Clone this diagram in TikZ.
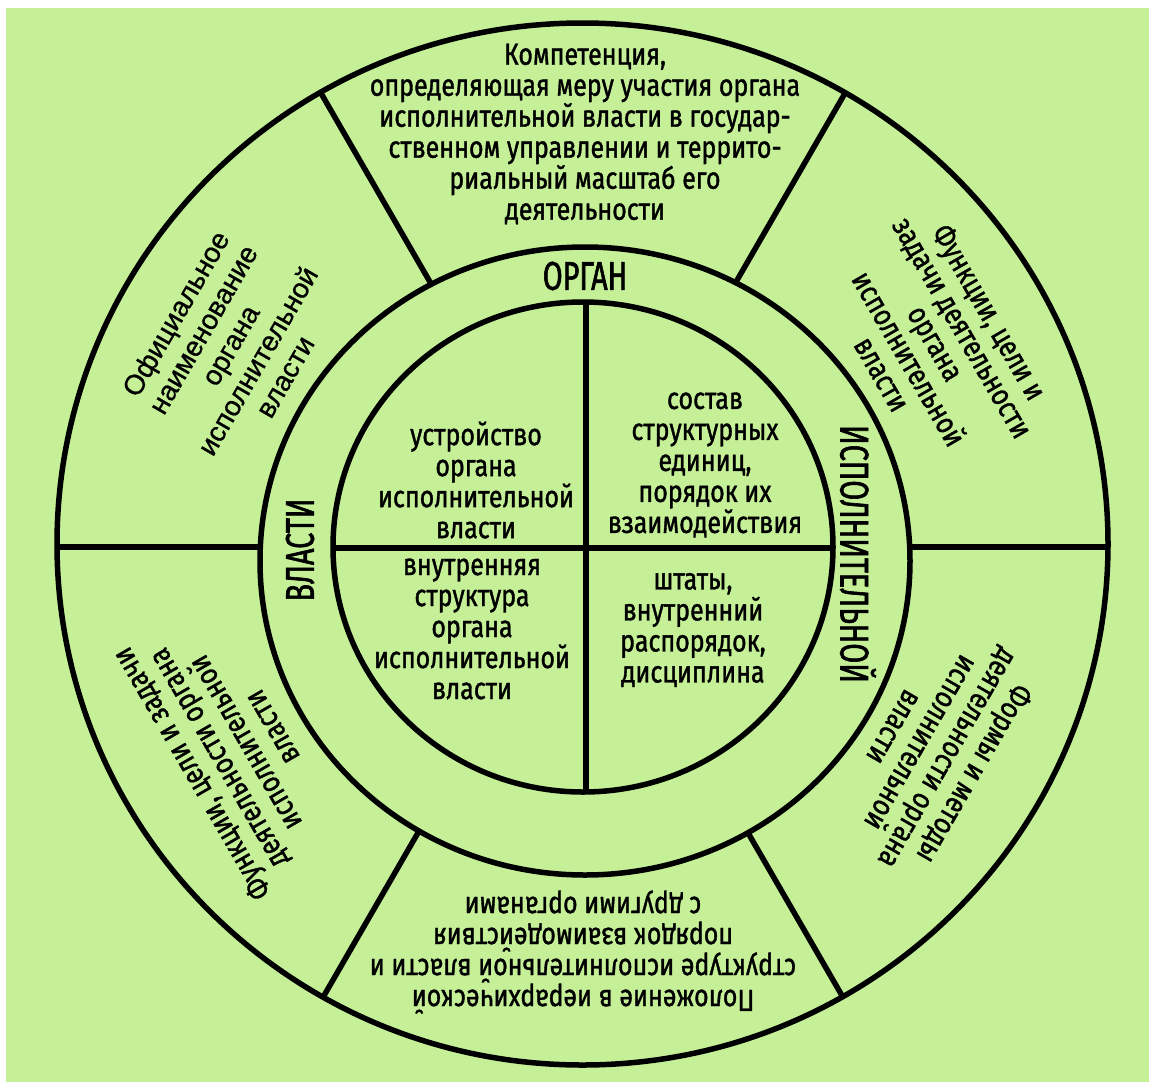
\documentclass[tikz,border=0pt]{standalone}
\usepackage{fontspec}
\setmainfont{Fira Sans}[FakeStretch=0.82, FakeBold=1.2]
\newfontfamily\arialf{Liberation Sans}[FakeBold=0.8]
\newfontfamily\capsf{Fira Sans}[FakeStretch=0.72, FakeBold=1.5]
\definecolor{bggreen}{RGB}{197,240,152}
\tikzset{
  txt/.style={align=center, font=\fontsize{30.5}{31}\selectfont, inner sep=0pt},
  arl/.style={align=center, font=\arialf\fontsize{28}{31.5}\selectfont, inner sep=0pt},
  ringlbl/.style={font=\capsf\fontsize{40}{40}\selectfont, inner sep=0pt},
  ln/.style={line width=5.5pt, black},
}
\begin{document}
\begin{tikzpicture}[x=1pt, y=-1pt]
\useasboundingbox (0,0) rectangle (1149,1082);
\fill[white] (0,0) rectangle (1149,1082);
\fill[bggreen] (6,8) rectangle (1149,1082);
% spokes of the outer ring
\begin{scope}
  \clip (582.5,544) ellipse [x radius=525.5pt, y radius=521pt];
  \foreach \a in {0,60,...,300}
    \draw[ln] (583,547) -- ++(\a:700pt);
\end{scope}
\fill[bggreen] (585,561) ellipse [x radius=325pt, y radius=314pt];
% circles
\draw[ln] (582.5,544) ellipse [x radius=525.5pt, y radius=521pt];
\draw[ln] (585,561) ellipse [x radius=325pt, y radius=314pt];
\draw[ln] (583,547) ellipse [x radius=250pt, y radius=245pt];
% inner cross
\begin{scope}
  \clip (583,547) ellipse [x radius=250pt, y radius=245pt];
  \draw[ln] (586,250) -- (586,850);
  \draw[ln] (300,548) -- (870,548);
\end{scope}
% ring labels
\node[ringlbl] (organ) at (585,276) {ОРГАН};
\node[ringlbl, rotate=90] (vlasti) at (300,550) {ВЛАСТИ};
\node[ringlbl, rotate=-90] (ispoln) at (858,554) {ИСПОЛНИТЕЛЬНОЙ};
% outer sectors
\node[txt] (top) at (585,134) {Компетенция,\\определяющая меру участия органа\\исполнительной власти в государ-\\ственном управлении и террито-\\риальный масштаб его\\деятельности};
\node[arl, rotate=60] (ul) at (230,345) {Официальное\\наименование\\органа\\исполнительной\\власти};
\node[txt, rotate=-60] (ur) at (936,343) {Функции, цели и\\задачи деятельности\\органа\\исполнительной\\власти};
\node[txt, rotate=-120] (lr) at (935,751) {Формы и методы\\деятельности органа\\исполнительной\\власти};
\node[txt, rotate=180] (bot) at (583,952) {Положение в иерархической\\структуре исполнительной власти и\\порядок взаимодействия\\с другими органами};
\node[txt, rotate=120] (ll) at (231,751) {Функции, цели и задачи\\деятельности органа\\исполнительной\\власти};
% inner quadrants
\node[txt] (q1) at (476,480) {устройство\\органа\\исполнительной\\власти};
\node[txt] (q2) at (705,465) {состав\\структурных\\единиц,\\порядок их\\взаимодействия};
\node[txt] (q3) at (472,629) {внутренняя\\структура\\органа\\исполнительной\\власти};
\node[txt] (q4) at (693,630) {штаты,\\внутренний\\распорядок,\\дисциплина};
\end{tikzpicture}
\end{document}
